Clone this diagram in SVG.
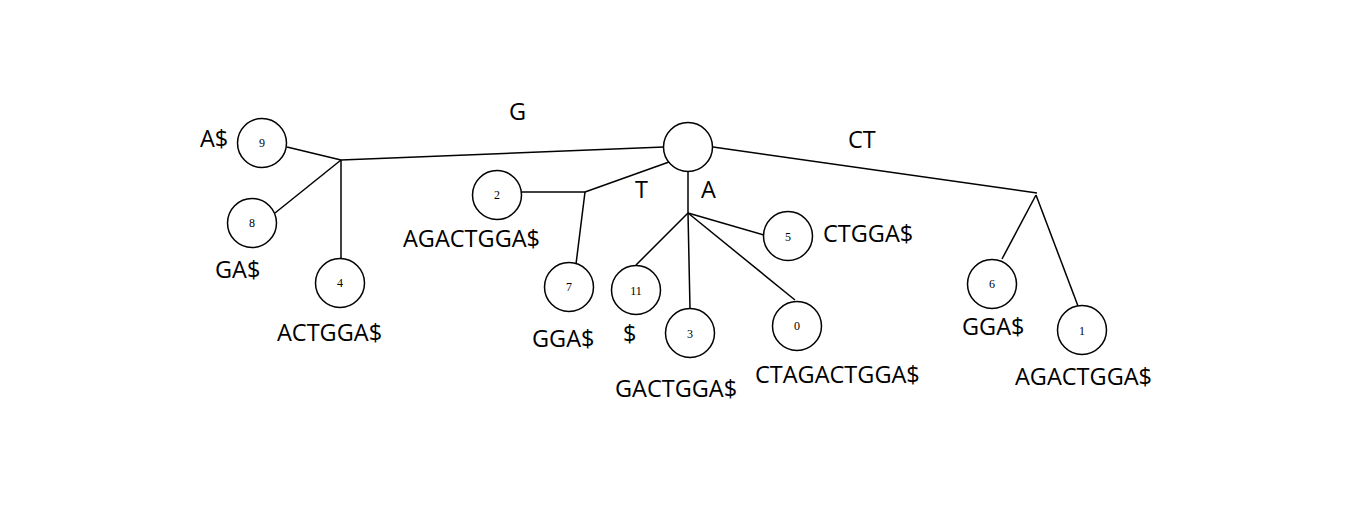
<svg xmlns="http://www.w3.org/2000/svg" width="1356" height="524" viewBox="0 0 1356 524">
<style>
.n{fill:#fff;stroke:#000;stroke-width:1.5}
.c{stroke:#000;stroke-width:1.5;fill:none}
.num{font-family:"Liberation Serif","DejaVu Serif",serif;font-size:12px;fill:#000;text-anchor:middle;dominant-baseline:central}
.lab{font-family:"Open Sans","Noto Sans",sans-serif;font-size:23.5px;fill:#000}
</style>
<rect width="1356" height="524" fill="#fff"/>
<g id="connectors">
<line class="c" x1="287" y1="147" x2="341" y2="160"/>
<line class="c" x1="664" y1="147" x2="341" y2="160"/>
<line class="c" x1="275" y1="213" x2="341" y2="160"/>
<line class="c" x1="341" y1="160" x2="341" y2="258"/>
<line class="c" x1="522" y1="192" x2="585" y2="192"/>
<line class="c" x1="669" y1="162" x2="585" y2="192"/>
<line class="c" x1="585" y1="192" x2="576" y2="264"/>
<line class="c" x1="688" y1="171" x2="688" y2="213"/>
<line class="c" x1="688" y1="213" x2="764" y2="235"/>
<line class="c" x1="688" y1="213" x2="636" y2="265"/>
<line class="c" x1="688" y1="213" x2="690" y2="309"/>
<line class="c" x1="688" y1="213" x2="795" y2="300"/>
<line class="c" x1="713" y1="147" x2="1037" y2="193"/>
<line class="c" x1="1036" y1="195" x2="1002" y2="259"/>
<line class="c" x1="1036" y1="195" x2="1078" y2="306"/>
</g>
<g id="root"><circle class="n" cx="688" cy="147" r="24.5"/></g>
<g id="node9"><circle class="n" cx="262" cy="143" r="24.5"/><text class="num" x="262" y="143">9</text></g>
<g id="node8"><circle class="n" cx="252" cy="223" r="24.5"/><text class="num" x="252" y="223">8</text></g>
<g id="node4"><circle class="n" cx="340" cy="283" r="24.5"/><text class="num" x="340" y="283">4</text></g>
<g id="node2"><circle class="n" cx="497" cy="195" r="24.5"/><text class="num" x="497" y="195">2</text></g>
<g id="node7"><circle class="n" cx="569" cy="287" r="24.5"/><text class="num" x="569" y="287">7</text></g>
<g id="node11"><circle class="n" cx="636" cy="290" r="24.5"/><text class="num" x="636" y="291">11</text></g>
<g id="node3"><circle class="n" cx="690" cy="333" r="24.5"/><text class="num" x="690" y="334">3</text></g>
<g id="node5"><circle class="n" cx="788" cy="236" r="24.5"/><text class="num" x="788" y="237">5</text></g>
<g id="node0"><circle class="n" cx="797" cy="326" r="24.5"/><text class="num" x="797" y="326">0</text></g>
<g id="node6"><circle class="n" cx="992" cy="284" r="24.5"/><text class="num" x="992" y="284">6</text></g>
<g id="node1"><circle class="n" cx="1082" cy="330" r="24.5"/><text class="num" x="1082" y="331">1</text></g>
<g id="labels">
<text class="lab" x="200" y="147">A$</text>
<text class="lab" x="215" y="278">GA$</text>
<text class="lab" x="277" y="341">ACTGGA$</text>
<text class="lab" x="509" y="120">G</text>
<text class="lab" x="403" y="247">AGACTGGA$</text>
<text class="lab" x="635" y="198">T</text>
<text class="lab" x="701" y="198">A</text>
<text class="lab" x="532" y="347">GGA$</text>
<text class="lab" x="623" y="342">$</text>
<text class="lab" x="615" y="397">GACTGGA$</text>
<text class="lab" x="823" y="242">CTGGA$</text>
<text class="lab" x="755" y="383">CTAGACTGGA$</text>
<text class="lab" x="848" y="148">CT</text>
<text class="lab" x="962" y="335">GGA$</text>
<text class="lab" x="1015" y="385">AGACTGGA$</text>
</g>
</svg>
